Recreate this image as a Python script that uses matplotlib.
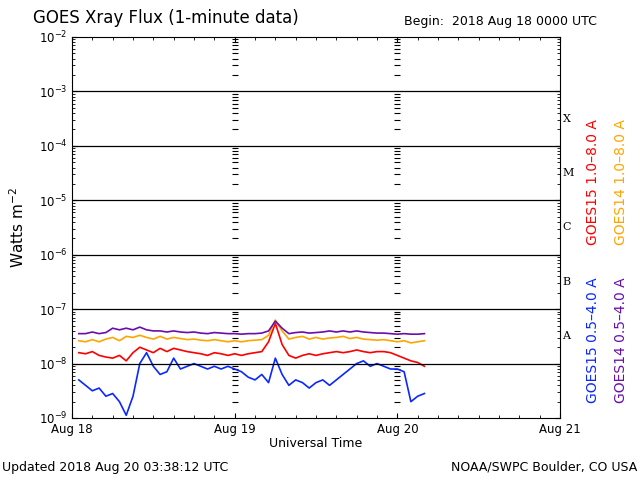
import numpy as np
import matplotlib
matplotlib.use("Agg")
import matplotlib.pyplot as plt

# hourly readings (log10 W/m^2), hours since 2018 Aug 18 01 UT
hours = list(range(1, 53))
goes14_short = [-7.45, -7.45, -7.42, -7.45, -7.43, -7.35, -7.38, -7.35, -7.38, -7.33,
                -7.38, -7.40, -7.40, -7.42, -7.40, -7.42, -7.43, -7.42, -7.44, -7.45,
                -7.43, -7.44, -7.45, -7.45, -7.46, -7.45, -7.45, -7.44, -7.40, -7.22,
                -7.35, -7.45, -7.43, -7.42, -7.44, -7.43, -7.42, -7.40, -7.42, -7.40,
                -7.42, -7.40, -7.42, -7.43, -7.44, -7.44, -7.45, -7.46, -7.45, -7.46,
                -7.46, -7.45]
goes14_long = [-7.58, -7.60, -7.56, -7.60, -7.55, -7.52, -7.58, -7.50, -7.52, -7.48,
               -7.52, -7.55, -7.50, -7.55, -7.52, -7.54, -7.56, -7.55, -7.57, -7.58,
               -7.56, -7.58, -7.60, -7.58, -7.60, -7.58, -7.57, -7.56, -7.48, -7.20,
               -7.40, -7.55, -7.52, -7.50, -7.55, -7.52, -7.55, -7.53, -7.52, -7.50,
               -7.54, -7.52, -7.55, -7.56, -7.57, -7.56, -7.58, -7.60, -7.58, -7.62,
               -7.60, -7.58]
goes15_long = [-7.80, -7.82, -7.78, -7.85, -7.88, -7.90, -7.85, -7.95, -7.80, -7.70,
               -7.75, -7.80, -7.72, -7.78, -7.72, -7.75, -7.78, -7.80, -7.82, -7.85,
               -7.80, -7.82, -7.85, -7.82, -7.85, -7.82, -7.80, -7.78, -7.60, -7.26,
               -7.65, -7.85, -7.90, -7.85, -7.82, -7.85, -7.82, -7.80, -7.78, -7.80,
               -7.78, -7.75, -7.78, -7.80, -7.78, -7.78, -7.80, -7.85, -7.90, -7.95,
               -7.98, -8.05]
goes15_short = [-8.30, -8.40, -8.50, -8.45, -8.60, -8.55, -8.70, -8.95, -8.60, -8.00,
                -7.80, -8.05, -8.20, -8.15, -7.90, -8.10, -8.05, -8.00, -8.05, -8.10,
                -8.05, -8.10, -8.05, -8.10, -8.15, -8.25, -8.30, -8.20, -8.35, -7.90,
                -8.20, -8.40, -8.30, -8.35, -8.45, -8.35, -8.30, -8.40, -8.30, -8.20,
                -8.10, -8.00, -7.95, -8.05, -8.00, -8.05, -8.10, -8.10, -8.15, -8.70,
                -8.60, -8.55]

fig = plt.figure(figsize=(6.4, 4.8), dpi=100)
ax = fig.add_axes([72/640, 62/480, 488/640, 381/480])
t = np.array(hours) / 24.0
for vals, c in [(goes15_short, "#0a28ff"), (goes15_long, "#ff0000"),
                (goes14_long, "#ffa500"), (goes14_short, "#6a0dad")]:
    ax.plot(t, 10.0 ** np.array(vals), color=c, linewidth=1.2)

ax.set_yscale("log")
ax.set_ylim(1e-9, 1e-2)
ax.set_xlim(0, 3)
for e in range(-8, -2):
    ax.axhline(10.0 ** e, color="black", linewidth=0.9)
ax.set_xticks([0, 1, 2, 3])
ax.set_xticklabels(["Aug 18", "Aug 19", "Aug 20", "Aug 21"], fontsize=8.5)
ax.set_xticks(np.arange(0, 3.01, 0.125), minor=True)
ax.tick_params(which="both", direction="in", top=True, right=True)
ax.tick_params(axis="y", labelsize=8.5, pad=3)
# minor y ticks repeated along day boundaries
minor = [m * 10.0 ** e for e in range(-9, -2) for m in range(2, 10)]
for d in (1, 2):
    ax.scatter([d] * len(minor), minor, marker="_", s=20, color="black", linewidths=0.8)
for lab, e in zip("ABCMX", range(-7, -2)):
    ax.text(1.005, 10.0 ** (e - 0.5), lab, fontsize=8, family="DejaVu Serif",
            transform=ax.get_yaxis_transform(), va="center")

ax.set_xlabel("Universal Time", fontsize=9, labelpad=1)
fig.text(18/640, 1 - 228/480, "Watts m$^{-2}$", fontsize=11, rotation=90, ha="center", va="center")
fig.text(33/640, 1 - 18/480, "GOES Xray Flux (1-minute data)", fontsize=12, va="center")
fig.text(404/640, 1 - 22/480, "Begin:  2018 Aug 18 0000 UTC", fontsize=9, va="center")
fig.text(2/640, 1 - 467/480, "Updated 2018 Aug 20 03:38:12 UTC", fontsize=9, va="center")
fig.text(637/640, 1 - 467/480, "NOAA/SWPC Boulder, CO USA", fontsize=9, va="center", ha="right")
for x, y, s, c in [(593, 182, "GOES15 1.0–8.0 A", "#ff0000"),
                   (621, 182, "GOES14 1.0–8.0 A", "#ffa500"),
                   (593, 340, "GOES15 0.5–4.0 A", "#0a28ff"),
                   (621, 340, "GOES14 0.5–4.0 A", "#6a0dad")]:
    fig.text(x/640, 1 - y/480, s, color=c, rotation=90, fontsize=10, ha="center", va="center")

fig.savefig("out.png", dpi=100)
